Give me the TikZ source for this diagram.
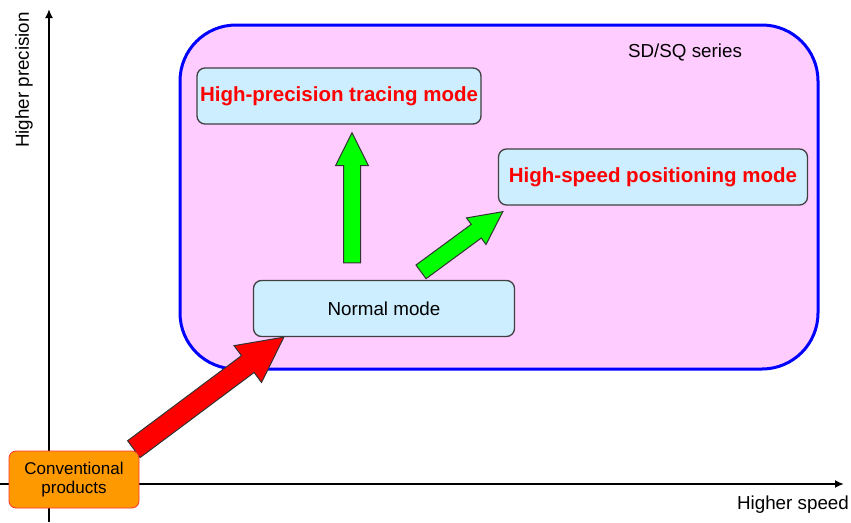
\documentclass[tikz,border=0pt]{standalone}
\usepackage{fontspec}
\setmainfont{Liberation Sans}
\usepackage{tikz}
\usetikzlibrary{arrows.meta}
\usetikzlibrary{calc}

\definecolor{framepink}{HTML}{FFCCFF}
\definecolor{boxblue}{HTML}{CCEEFF}
\definecolor{boxgray}{HTML}{404040}
\definecolor{convorange}{HTML}{FF9900}

% block arrow: from, to, colour, shaft half width, head half width, head length
\newcommand{\blockarrow}[6]{%
	\coordinate (ba-h) at ($(#2)!#6!(#1)$);
	\draw[arrowline, fill=#3] ($(#1)!#4!90:(#2)$) -- ($(ba-h)!#4!-90:(#1)$)
		-- ($(ba-h)!#5!-90:(#1)$) -- (#2) -- ($(ba-h)!#5!90:(#1)$)
		-- ($(ba-h)!#4!90:(#1)$) -- ($(#1)!#4!-90:(#2)$) -- cycle;
}

\begin{document}
\begin{tikzpicture}[x=1pt,y=-1pt,
		axis/.style={line width=2.5pt, -{Latex[length=9pt,width=8pt]}},
		modebox/.style={draw=boxgray, line width=1.3pt, fill=boxblue,
			rounded corners=8pt, inner sep=0pt, minimum height=56pt},
		modetext/.style={font=\fontsize{20.5}{24}\selectfont\bfseries, text=red},
		arrowline/.style={draw=black!80, line width=1pt, line join=miter},
		every node/.style={font=\fontsize{18.8}{22}\selectfont}]
	\useasboundingbox (0,0) rectangle (851,522);
	
	\fill[framepink] (180,25) [rounded corners=56pt] rectangle (818,369);
	\draw[blue, line width=3pt] (180,25) [rounded corners=56pt] rectangle (818,369);
	\node (series) at (685,52) {SD/SQ series};
	
	%axes
	\coordinate (ybot) at (49,522);
	\coordinate (ytop) at (49,9);
	\coordinate (xleft) at (0,484);
	\coordinate (xright) at (844,484);
	\draw[axis] (ybot) -- (ytop);
	\draw[axis] (xleft) -- (xright);
	\node[rotate=90] (ylabel) at (24,80) {Higher precision};
	\node (xlabel) at (793,505) {Higher speed};
	
	\node[modebox, minimum width=284pt, modetext] (precise) at (339,96) {High-precision tracing mode};
	\node[modebox, minimum width=309pt, modetext] (speedy) at (653,177) {High-speed positioning mode};
	\node[modebox, minimum width=261pt] (normal) at (384,308.5) {Normal mode};
	
	\blockarrow{$(normal.north)+(-32,-17)$}{$(precise.south)+(13,8)$}{green}{8.5pt}{16.5pt}{33pt}
	\blockarrow{$(normal.north)+(37,-8)$}{$(speedy.south west)+(5,6)$}{green}{8.5pt}{16.5pt}{33pt}
	\blockarrow{$(normal.south west)+(-119,112)$}{$(normal.south west)+(31,0)$}{red}{10.5pt}{23pt}{45pt}
	
	\node[draw=red!80, line width=0.8pt, fill=convorange, rounded corners=7pt,
		minimum width=130pt, minimum height=57pt, inner sep=0pt, align=center,
		font=\fontsize{17}{19}\selectfont] (conv) at (74,479.5) {Conventional\\products};
\end{tikzpicture}
\end{document}
